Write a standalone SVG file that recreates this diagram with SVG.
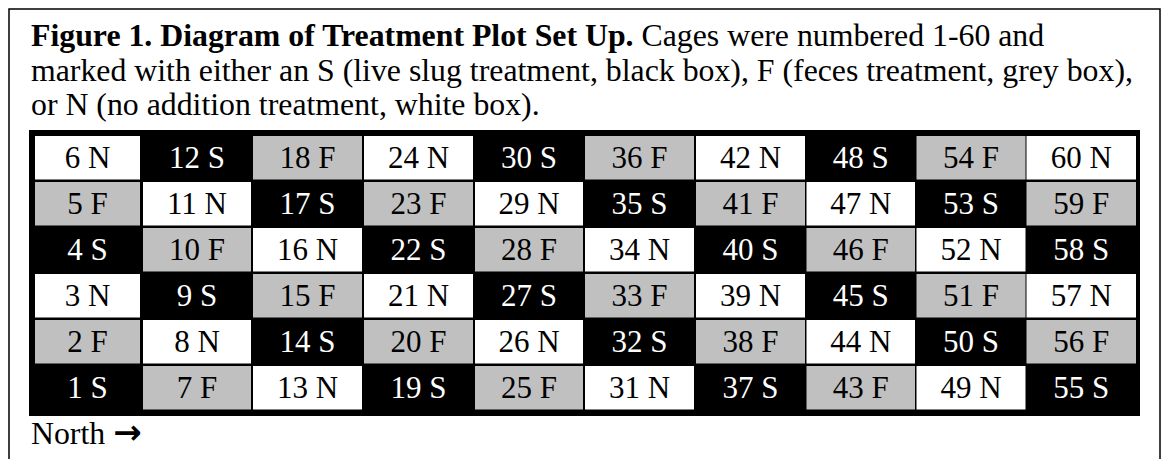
<svg xmlns="http://www.w3.org/2000/svg" width="1162" height="459" viewBox="0 0 1162 459">
<style>
.cap{font-family:"Liberation Serif","Times New Roman",serif;font-size:31.8px;fill:#000}
.b{font-weight:bold}
.arw{font-family:"DejaVu Sans",sans-serif;font-size:34px;font-weight:bold}
.lbl{font-family:"Liberation Serif","Times New Roman",serif;font-size:31px;text-anchor:middle}
.N rect{fill:#fff}.N text{fill:#000}
.F rect{fill:#c0c0c0}.F text{fill:#000}
.S rect{fill:#000}.S text{fill:#fff}
</style>
<rect id="frame" x="9" y="9" width="1151" height="470" fill="#fff" stroke="#000" stroke-width="1.5"/>
<text class="cap" x="31" y="46"><tspan class="b">Figure 1. Diagram of Treatment Plot Set Up.</tspan> Cages were numbered 1-60 and</text>
<text class="cap" x="31" y="80.5">marked with either an S (live slug treatment, black box), F (feces treatment, grey box),</text>
<text class="cap" x="31" y="115">or N (no addition treatment, white box).</text>
<rect id="grid" x="29" y="130" width="1111" height="286" fill="#000"/>
<g id="connectors"></g>
<g class="lbl">
<g id="c6" class="N"><rect x="35" y="136" width="105" height="43.5"/><text x="87.5" y="168">6 N</text></g>
<g id="c12" class="S"><rect x="143" y="136" width="108" height="43.5"/><text x="197" y="168">12 S</text></g>
<g id="c18" class="F"><rect x="253" y="136" width="109" height="43.5"/><text x="307.5" y="168">18 F</text></g>
<g id="c24" class="N"><rect x="364" y="136" width="109" height="43.5"/><text x="418.5" y="168">24 N</text></g>
<g id="c30" class="S"><rect x="475" y="136" width="108" height="43.5"/><text x="529" y="168">30 S</text></g>
<g id="c36" class="F"><rect x="585" y="136" width="109" height="43.5"/><text x="639.5" y="168">36 F</text></g>
<g id="c42" class="N"><rect x="696" y="136" width="109" height="43.5"/><text x="750.5" y="168">42 N</text></g>
<g id="c48" class="S"><rect x="806.5" y="136" width="108.5" height="43.5"/><text x="860.75" y="168">48 S</text></g>
<g id="c54" class="F"><rect x="916.5" y="136" width="109" height="43.5"/><text x="971" y="168">54 F</text></g>
<g id="c60" class="N"><rect x="1026.5" y="136" width="109.5" height="43.5"/><text x="1081.25" y="168">60 N</text></g>
<g id="c5" class="F"><rect x="35" y="182" width="105" height="43.5"/><text x="87.5" y="214">5 F</text></g>
<g id="c11" class="N"><rect x="143" y="182" width="108" height="43.5"/><text x="197" y="214">11 N</text></g>
<g id="c17" class="S"><rect x="253" y="182" width="109" height="43.5"/><text x="307.5" y="214">17 S</text></g>
<g id="c23" class="F"><rect x="364" y="182" width="109" height="43.5"/><text x="418.5" y="214">23 F</text></g>
<g id="c29" class="N"><rect x="475" y="182" width="108" height="43.5"/><text x="529" y="214">29 N</text></g>
<g id="c35" class="S"><rect x="585" y="182" width="109" height="43.5"/><text x="639.5" y="214">35 S</text></g>
<g id="c41" class="F"><rect x="696" y="182" width="109" height="43.5"/><text x="750.5" y="214">41 F</text></g>
<g id="c47" class="N"><rect x="806.5" y="182" width="108.5" height="43.5"/><text x="860.75" y="214">47 N</text></g>
<g id="c53" class="S"><rect x="916.5" y="182" width="109" height="43.5"/><text x="971" y="214">53 S</text></g>
<g id="c59" class="F"><rect x="1026.5" y="182" width="109.5" height="43.5"/><text x="1081.25" y="214">59 F</text></g>
<g id="c4" class="S"><rect x="35" y="228" width="105" height="43.5"/><text x="87.5" y="260">4 S</text></g>
<g id="c10" class="F"><rect x="143" y="228" width="108" height="43.5"/><text x="197" y="260">10 F</text></g>
<g id="c16" class="N"><rect x="253" y="228" width="109" height="43.5"/><text x="307.5" y="260">16 N</text></g>
<g id="c22" class="S"><rect x="364" y="228" width="109" height="43.5"/><text x="418.5" y="260">22 S</text></g>
<g id="c28" class="F"><rect x="475" y="228" width="108" height="43.5"/><text x="529" y="260">28 F</text></g>
<g id="c34" class="N"><rect x="585" y="228" width="109" height="43.5"/><text x="639.5" y="260">34 N</text></g>
<g id="c40" class="S"><rect x="696" y="228" width="109" height="43.5"/><text x="750.5" y="260">40 S</text></g>
<g id="c46" class="F"><rect x="806.5" y="228" width="108.5" height="43.5"/><text x="860.75" y="260">46 F</text></g>
<g id="c52" class="N"><rect x="916.5" y="228" width="109" height="43.5"/><text x="971" y="260">52 N</text></g>
<g id="c58" class="S"><rect x="1026.5" y="228" width="109.5" height="43.5"/><text x="1081.25" y="260">58 S</text></g>
<g id="c3" class="N"><rect x="35" y="274" width="105" height="43.5"/><text x="87.5" y="306">3 N</text></g>
<g id="c9" class="S"><rect x="143" y="274" width="108" height="43.5"/><text x="197" y="306">9 S</text></g>
<g id="c15" class="F"><rect x="253" y="274" width="109" height="43.5"/><text x="307.5" y="306">15 F</text></g>
<g id="c21" class="N"><rect x="364" y="274" width="109" height="43.5"/><text x="418.5" y="306">21 N</text></g>
<g id="c27" class="S"><rect x="475" y="274" width="108" height="43.5"/><text x="529" y="306">27 S</text></g>
<g id="c33" class="F"><rect x="585" y="274" width="109" height="43.5"/><text x="639.5" y="306">33 F</text></g>
<g id="c39" class="N"><rect x="696" y="274" width="109" height="43.5"/><text x="750.5" y="306">39 N</text></g>
<g id="c45" class="S"><rect x="806.5" y="274" width="108.5" height="43.5"/><text x="860.75" y="306">45 S</text></g>
<g id="c51" class="F"><rect x="916.5" y="274" width="109" height="43.5"/><text x="971" y="306">51 F</text></g>
<g id="c57" class="N"><rect x="1026.5" y="274" width="109.5" height="43.5"/><text x="1081.25" y="306">57 N</text></g>
<g id="c2" class="F"><rect x="35" y="320" width="105" height="43.5"/><text x="87.5" y="352">2 F</text></g>
<g id="c8" class="N"><rect x="143" y="320" width="108" height="43.5"/><text x="197" y="352">8 N</text></g>
<g id="c14" class="S"><rect x="253" y="320" width="109" height="43.5"/><text x="307.5" y="352">14 S</text></g>
<g id="c20" class="F"><rect x="364" y="320" width="109" height="43.5"/><text x="418.5" y="352">20 F</text></g>
<g id="c26" class="N"><rect x="475" y="320" width="108" height="43.5"/><text x="529" y="352">26 N</text></g>
<g id="c32" class="S"><rect x="585" y="320" width="109" height="43.5"/><text x="639.5" y="352">32 S</text></g>
<g id="c38" class="F"><rect x="696" y="320" width="109" height="43.5"/><text x="750.5" y="352">38 F</text></g>
<g id="c44" class="N"><rect x="806.5" y="320" width="108.5" height="43.5"/><text x="860.75" y="352">44 N</text></g>
<g id="c50" class="S"><rect x="916.5" y="320" width="109" height="43.5"/><text x="971" y="352">50 S</text></g>
<g id="c56" class="F"><rect x="1026.5" y="320" width="109.5" height="43.5"/><text x="1081.25" y="352">56 F</text></g>
<g id="c1" class="S"><rect x="35" y="366" width="105" height="43.5"/><text x="87.5" y="398">1 S</text></g>
<g id="c7" class="F"><rect x="143" y="366" width="108" height="43.5"/><text x="197" y="398">7 F</text></g>
<g id="c13" class="N"><rect x="253" y="366" width="109" height="43.5"/><text x="307.5" y="398">13 N</text></g>
<g id="c19" class="S"><rect x="364" y="366" width="109" height="43.5"/><text x="418.5" y="398">19 S</text></g>
<g id="c25" class="F"><rect x="475" y="366" width="108" height="43.5"/><text x="529" y="398">25 F</text></g>
<g id="c31" class="N"><rect x="585" y="366" width="109" height="43.5"/><text x="639.5" y="398">31 N</text></g>
<g id="c37" class="S"><rect x="696" y="366" width="109" height="43.5"/><text x="750.5" y="398">37 S</text></g>
<g id="c43" class="F"><rect x="806.5" y="366" width="108.5" height="43.5"/><text x="860.75" y="398">43 F</text></g>
<g id="c49" class="N"><rect x="916.5" y="366" width="109" height="43.5"/><text x="971" y="398">49 N</text></g>
<g id="c55" class="S"><rect x="1026.5" y="366" width="109.5" height="43.5"/><text x="1081.25" y="398">55 S</text></g>
</g>
<text class="cap" x="31" y="444">North <tspan class="arw">→</tspan></text>
</svg>
